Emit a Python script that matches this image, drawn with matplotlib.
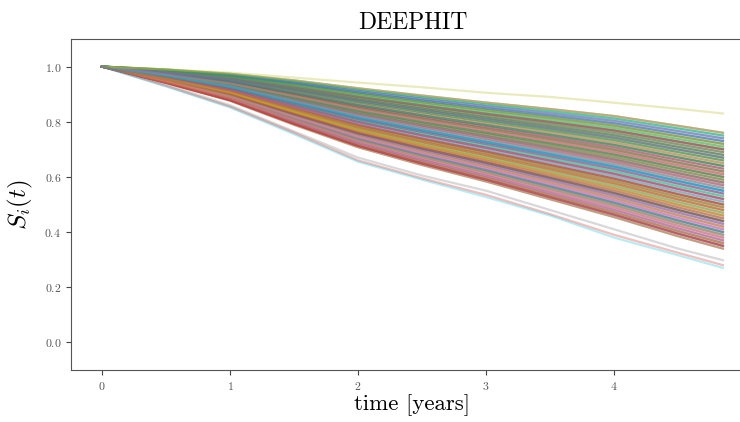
import numpy as np
import matplotlib
matplotlib.use("Agg")
import matplotlib.pyplot as plt

plt.rcParams["font.family"] = "serif"
plt.rcParams["font.serif"] = ["cmr10"]
plt.rcParams["mathtext.fontset"] = "cm"
plt.rcParams["axes.formatter.use_mathtext"] = True

# time grid of the survival predictions (years)
time_years = [0.0, 0.5, 1.0, 1.5, 2.0, 2.5, 3.0, 3.5, 4.0, 4.5, 4.85]

# upper and lower edge of the dense band of test-set curves
band_top = [1.0, 0.99, 0.975, 0.952, 0.924, 0.898, 0.873, 0.85, 0.825, 0.79, 0.765]
band_bottom = [1.0, 0.94, 0.875, 0.787, 0.705, 0.64, 0.58, 0.515, 0.45, 0.38, 0.335]

# survival at the last time point for every curve inside the band
band_end_values = [
    0.62, 0.47, 0.71, 0.39, 0.55, 0.68, 0.43, 0.59, 0.51, 0.74, 0.36, 0.65,
    0.49, 0.57, 0.41, 0.70, 0.63, 0.38, 0.53, 0.76, 0.45, 0.60, 0.67, 0.42,
    0.58, 0.35, 0.72, 0.50, 0.64, 0.44, 0.69, 0.56, 0.40, 0.61, 0.48, 0.73,
    0.37, 0.66, 0.52, 0.75, 0.46, 0.59, 0.34, 0.70, 0.54, 0.42, 0.63, 0.49,
    0.71, 0.39, 0.57, 0.67, 0.44, 0.61, 0.52, 0.36, 0.74, 0.47, 0.65, 0.55,
    0.40, 0.69, 0.50, 0.58, 0.38, 0.72, 0.45, 0.62, 0.53, 0.68, 0.35, 0.60,
    0.48, 0.76, 0.43, 0.56, 0.66, 0.41, 0.64, 0.51, 0.73, 0.37, 0.59, 0.46,
    0.54, 0.70, 0.39, 0.62, 0.49, 0.75, 0.44, 0.57, 0.67, 0.35, 0.52, 0.63,
    0.42, 0.60, 0.71, 0.47, 0.55, 0.38, 0.68, 0.50, 0.61, 0.45, 0.74, 0.36,
    0.65, 0.53, 0.40, 0.58, 0.69, 0.48, 0.37, 0.64, 0.56, 0.43, 0.72, 0.51,
    0.60, 0.46, 0.66, 0.34, 0.54, 0.70, 0.41, 0.57, 0.62, 0.39, 0.67, 0.49,
    0.75, 0.44, 0.52, 0.63, 0.38, 0.59, 0.47, 0.71, 0.55, 0.36, 0.64, 0.50,
    0.43, 0.68, 0.57, 0.40, 0.61, 0.53, 0.73, 0.45, 0.66, 0.58, 0.37, 0.62,
    0.51, 0.69, 0.42, 0.56, 0.74, 0.48, 0.60, 0.35, 0.65, 0.54, 0.41, 0.70,
    0.46, 0.58, 0.64, 0.39, 0.72, 0.52, 0.67, 0.44, 0.61, 0.49, 0.76, 0.55,
]

# the few patients well outside the band
high_risk_gray = [1.0, 0.935, 0.86, 0.765, 0.67, 0.605, 0.55, 0.48, 0.41, 0.34, 0.298]
high_risk_red = [1.0, 0.93, 0.855, 0.76, 0.66, 0.595, 0.535, 0.465, 0.39, 0.325, 0.28]
high_risk_cyan = [1.0, 0.928, 0.852, 0.755, 0.655, 0.59, 0.527, 0.46, 0.38, 0.316, 0.27]
low_risk_olive = [1.0, 0.99, 0.978, 0.96, 0.942, 0.925, 0.905, 0.89, 0.869, 0.847, 0.83]

t = np.array(time_years)
top = np.array(band_top)
bottom = np.array(band_bottom)

fig = plt.figure(figsize=(7.4, 4.22), dpi=100)
ax = fig.add_axes([0.0959, 0.1232, 0.923, 0.7844])

colors = plt.rcParams["axes.prop_cycle"].by_key()["color"]
for i, end in enumerate(band_end_values):
    frac = (end - bottom[-1]) / (top[-1] - bottom[-1])
    ax.plot(t, bottom + frac * (top - bottom), color=colors[i % len(colors)],
            lw=1.6, alpha=0.35)

ax.plot(t, low_risk_olive, color="tab:olive", lw=1.6, alpha=0.3)
ax.plot(t, high_risk_gray, color="tab:gray", lw=1.6, alpha=0.3)
ax.plot(t, high_risk_red, color="tab:red", lw=1.6, alpha=0.3)
ax.plot(t, high_risk_cyan, color="tab:cyan", lw=1.6, alpha=0.3)

ax.set_ylim(-0.1, 1.1)
ax.set_xticks([0, 1, 2, 3, 4, 5])
ax.set_yticks([0.0, 0.2, 0.4, 0.6, 0.8, 1.0])
ax.tick_params(labelsize=8.5, labelcolor="#555555", color="#444444", length=3.5)
for s in ax.spines.values():
    s.set_color("#555555")

ax.set_title("DEEPHIT", fontsize=17, pad=7)
ax.set_xlabel("time [years]", fontsize=16.5, labelpad=2)
ax.set_ylabel("$S_i(t)$", fontsize=18)
ax.yaxis.set_label_coords(-0.052, 0.5)

plt.savefig("out.png", dpi=100)
